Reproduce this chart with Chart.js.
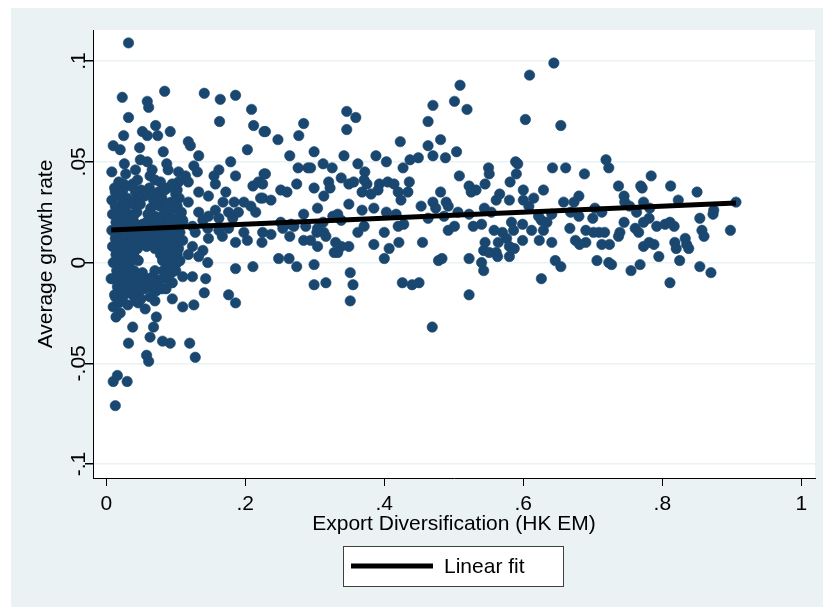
<!DOCTYPE html>
<html>
<head>
<meta charset="utf-8">
<script src="https://cdn.jsdelivr.net/npm/chart.js@4/dist/chart.umd.min.js"></script>
<style>
  body { margin: 0; background: #fff; }
  canvas { display: block; }
</style>
</head>
<body>
<canvas id="growthChart" width="823" height="607"></canvas>
<script>
// [export diversification (HK EM), average growth rate]
const obs = [
  // sparse points, low diversification
  [.032,.109],[.023,.082],[.059,.080],[.084,.085],[.061,.077],[.032,.072],[.052,.065],[.071,.068],[.092,.065],[.025,.063],
  [.059,.063],[.074,.063],[.010,.058],[.020,.056],[.048,.057],[.082,.055],[.026,.049],[.049,.051],[.059,.050],[.087,.049],
  [.042,.046],[.066,.046],[.089,.046],[.104,.045],[.025,.039],[.038,.039],[.063,.043],[.078,.040],[.013,.035],[.104,.040],
  [.013,-.071],[.010,-.059],[.016,-.056],[.030,-.059],[.058,-.046],[.061,-.049],[.032,-.040],[.063,-.037],[.068,-.032],[.072,-.027],
  [.038,-.032],[.081,-.039],[.092,-.040],[.014,-.027],[.020,-.025],[.010,-.022],[.029,-.015],[.046,-.020],[.056,-.023],[.095,-.018],
  [.013,-.017],[.007,-.008],
  // dense cluster near zero
  [.012,.037],[.024,.036],[.036,.038],[.050,.036],[.062,.037],[.075,.035],[.088,.037],[.100,.034],
  [.008,.031],[.019,.033],[.030,.032],[.043,.031],[.055,.033],[.068,.031],[.080,.032],[.093,.030],[.105,.032],
  [.013,.028],[.026,.027],[.038,.029],[.064,.027],[.077,.028],[.090,.026],[.102,.028],
  [.009,.024],[.021,.023],[.033,.024],[.070,.023],[.083,.024],[.096,.022],[.108,.025],
  [.014,.020],[.027,.019],[.040,.020],[.052,.019],[.063,.020],[.076,.019],[.088,.021],[.100,.018],
  [.008,.016],[.020,.015],[.032,.016],[.045,.015],[.057,.016],[.069,.015],[.081,.014],[.094,.016],[.106,.015],
  [.013,.012],[.025,.011],[.037,.012],[.050,.011],[.062,.012],[.074,.011],[.087,.012],[.099,.010],
  [.009,.008],[.021,.007],[.033,.008],[.045,.007],[.058,.008],[.070,.007],[.082,.008],[.104,.007],
  [.014,.004],[.027,.003],[.039,.004],[.078,.004],[.091,.003],[.102,.004],
  [.010,.000],[.022,-.001],[.034,.000],[.046,.001],[.086,.000],[.097,-.001],
  [.015,-.004],[.028,-.005],[.040,-.004],[.052,-.005],[.070,-.004],[.082,-.004],[.094,-.005],
  [.010,-.008],[.022,-.009],[.035,-.008],[.047,-.009],[.060,-.008],[.075,-.009],[.088,-.008],
  [.016,-.012],[.028,-.013],[.041,-.012],[.054,-.013],[.066,-.012],[.080,-.013],
  [.012,-.016],[.024,-.017],[.038,-.016],[.050,-.018],[.063,-.017],
  [.018,.040],[.045,.041],[.070,.041],[.095,.039],[.008,.045],[.028,.044],
  [.018,.034],[.042,.035],[.066,.034],[.084,.036],
  [.024,.030],[.049,.029],[.073,.029],[.098,.027],
  [.016,.026],[.044,.025],[.060,.024],[.086,.029],
  [.027,.022],[.039,.023],[.076,.022],[.091,.020],[.110,.021],
  [.019,.018],[.033,.020],[.046,.018],[.058,.020],[.070,.018],[.083,.017],[.107,.019],
  [.014,.014],[.026,.014],[.039,.014],[.051,.014],[.064,.013],[.090,.013],[.103,.012],
  [.017,.010],[.030,.009],[.043,.010],[.056,.010],[.068,.010],[.080,.010],[.093,.009],
  [.015,.006],[.028,.005],[.040,.006],[.087,.006],[.097,.006],
  [.018,.001],[.030,.002],[.042,.002],[.081,.001],[.092,.001],[.106,.001],
  [.020,-.003],[.034,-.003],[.088,-.003],[.100,-.004],
  [.016,-.007],[.028,-.009],[.041,-.007],[.054,-.009],[.067,-.007],[.081,-.008],[.095,-.010],
  [.022,-.013],[.035,-.012],[.048,-.014],[.060,-.012],[.072,-.014],[.086,-.013],
  [.018,-.020],[.031,-.021],[.042,-.019],[.070,-.019],
  // .1 - .23
  [.141,.084],[.164,.081],[.186,.083],[.209,.076],[.163,.070],[.212,.068],[.227,.065],[.118,.060],[.121,.058],[.203,.056],
  [.133,.053],[.179,.050],[.126,.048],[.114,.043],[.131,.045],[.162,.046],[.155,.043],[.186,.043],[.227,.044],[.219,.040],
  [.211,.038],[.157,.039],[.118,.040],[.102,.036],[.133,.035],[.172,.035],[.147,.033],[.222,.032],[.118,.030],[.168,.030],
  [.184,.030],[.198,.030],[.208,.028],[.215,.025],[.133,.025],[.157,.026],[.176,.025],[.190,.025],[.107,.024],[.147,.023],
  [.162,.022],[.182,.022],[.139,.021],[.110,.020],[.124,.018],[.146,.017],[.162,.016],[.176,.017],[.198,.015],[.110,.011],
  [.128,.015],[.147,.012],[.167,.013],[.186,.010],[.203,.011],[.224,.010],[.102,.006],[.124,.008],[.139,.006],[.118,.004],
  [.133,.003],[.146,.000],[.102,.000],[.186,-.003],[.211,-.002],[.110,-.007],[.124,-.007],[.143,-.008],[.141,-.015],[.110,-.022],
  [.126,-.021],[.176,-.016],[.186,-.020],[.120,-.040],[.128,-.047],
  // .22 - .41
  [.346,.075],[.359,.072],[.346,.066],[.284,.069],[.229,.065],[.247,.061],[.277,.063],[.299,.055],[.264,.053],[.342,.053],
  [.388,.053],[.276,.047],[.290,.047],[.294,.047],[.312,.049],[.325,.047],[.362,.049],[.403,.050],[.372,.045],[.229,.044],
  [.225,.039],[.338,.042],[.274,.039],[.299,.037],[.320,.040],[.322,.037],[.349,.039],[.356,.040],[.371,.041],[.375,.039],
  [.393,.039],[.405,.040],[.414,.039],[.251,.036],[.260,.035],[.313,.033],[.368,.035],[.381,.034],[.391,.036],[.225,.032],
  [.237,.031],[.349,.029],[.304,.027],[.368,.026],[.385,.027],[.284,.024],[.326,.023],[.333,.024],[.403,.025],[.251,.020],
  [.266,.019],[.287,.018],[.312,.020],[.338,.021],[.254,.017],[.270,.018],[.304,.017],[.313,.015],[.371,.018],[.237,.014],
  [.225,.015],[.264,.013],[.303,.015],[.284,.011],[.294,.011],[.304,.008],[.316,.013],[.362,.015],[.400,.015],[.385,.009],
  [.407,.007],[.349,.008],[.330,.010],[.338,.008],[.328,.005],[.333,.005],[.248,.002],[.263,.002],[.274,-.002],[.299,-.001],
  [.400,.002],[.351,-.005],[.299,-.011],[.316,-.010],[.355,-.011],[.351,-.019],
  // .41 - .63
  [.609,.093],[.509,.088],[.470,.078],[.501,.080],[.519,.076],[.603,.071],[.463,.070],[.423,.060],[.463,.058],[.481,.061],
  [.470,.053],[.488,.052],[.504,.055],[.437,.051],[.449,.052],[.589,.050],[.592,.049],[.427,.047],[.550,.047],[.551,.044],
  [.590,.044],[.508,.043],[.436,.040],[.545,.039],[.581,.040],[.522,.038],[.532,.036],[.525,.035],[.600,.036],[.420,.035],
  [.434,.035],[.481,.035],[.566,.034],[.580,.031],[.561,.031],[.600,.031],[.615,.032],[.424,.031],[.470,.030],[.489,.030],
  [.492,.028],[.453,.028],[.474,.027],[.544,.027],[.554,.025],[.608,.028],[.417,.024],[.463,.022],[.486,.023],[.506,.025],
  [.522,.024],[.622,.023],[.583,.020],[.599,.019],[.420,.018],[.428,.019],[.528,.018],[.540,.019],[.501,.018],[.492,.016],
  [.558,.016],[.586,.016],[.612,.016],[.421,.010],[.455,.010],[.570,.015],[.576,.012],[.599,.011],[.623,.011],[.545,.010],
  [.564,.010],[.580,.008],[.587,.007],[.543,.006],[.561,.005],[.551,.005],[.563,.003],[.580,.003],[.522,.002],[.540,.000],
  [.478,.001],[.483,.002],[.543,-.004],[.426,-.010],[.440,-.011],[.450,-.010],[.522,-.016],[.469,-.032],[.626,-.008],
  // .63 - .83
  [.644,.099],[.654,.068],[.642,.047],[.661,.047],[.688,.044],[.719,.051],[.723,.047],[.784,.043],[.737,.038],[.769,.038],
  [.771,.037],[.812,.038],[.629,.036],[.680,.033],[.745,.033],[.658,.030],[.673,.030],[.746,.030],[.773,.030],[.823,.031],
  [.641,.024],[.703,.027],[.713,.025],[.753,.028],[.782,.027],[.668,.025],[.680,.023],[.700,.022],[.763,.025],[.626,.021],
  [.634,.020],[.745,.020],[.773,.020],[.781,.022],[.792,.018],[.804,.019],[.811,.020],[.817,.018],[.667,.017],[.629,.016],
  [.690,.016],[.709,.015],[.717,.015],[.761,.017],[.766,.015],[.739,.015],[.641,.010],[.675,.011],[.690,.010],[.681,.009],
  [.701,.015],[.713,.009],[.724,.009],[.737,.013],[.773,.008],[.781,.010],[.788,.009],[.795,.003],[.818,.010],[.820,.007],
  [.646,.001],[.654,-.002],[.706,.001],[.723,.000],[.727,-.001],[.755,-.004],[.768,-.001],[.825,.001],[.811,-.010],
  // .83 and up
  [.850,.035],[.906,.030],[.874,.026],[.873,.024],[.854,.022],[.857,.016],[.860,.013],[.898,.016],[.833,.012],[.835,.009],
  [.838,.007],[.854,-.002],[.870,-.005]
];

// linear fit end points
const fitX = [0.007, 0.906];
const fitY = [0.0162, 0.0295];

const xTicks = [0, 0.2, 0.4, 0.6, 0.8, 1];
const xTickLabels = ['0', '.2', '.4', '.6', '.8', '1'];
const yTicks = [-0.1, -0.05, 0, 0.05, 0.1];
const yTickLabels = ['-.1', '-.05', '0', '.05', '.1'];

const FONT = '"Liberation Sans", Arial, sans-serif';
const graphBg = 'rgb(234,242,243)';
const navy = 'rgb(26,71,111)';

// stata-ish frame, text and legend
const stataFrame = {
  id: 'stataFrame',
  beforeDraw(chart) {
    const ctx = chart.ctx;
    const a = chart.chartArea;
    ctx.save();
    ctx.fillStyle = '#fff';
    ctx.fillRect(0, 0, chart.width, chart.height);
    ctx.fillStyle = graphBg;
    ctx.fillRect(11, 8, chart.width - 11, chart.height - 8);
    ctx.fillStyle = '#fff';
    ctx.fillRect(a.left, a.top, a.right - a.left, a.bottom - a.top);
    ctx.restore();
  },
  afterDraw(chart) {
    const ctx = chart.ctx;
    const xs = chart.scales.x;
    const ys = chart.scales.y;
    const a = chart.chartArea;
    ctx.save();
    ctx.fillStyle = '#000';
    ctx.font = '21px ' + FONT;

    // x tick labels
    ctx.textAlign = 'center';
    ctx.textBaseline = 'alphabetic';
    xTicks.forEach(function(v, i) {
      ctx.fillText(xTickLabels[i], xs.getPixelForValue(v), 510);
    });

    // y tick labels, rotated
    yTicks.forEach(function(v, i) {
      ctx.save();
      ctx.translate(85, ys.getPixelForValue(v));
      ctx.rotate(-Math.PI / 2);
      ctx.fillText(yTickLabels[i], 0, 0);
      ctx.restore();
    });

    // axis titles
    ctx.fillText('Export Diversification (HK EM)', (a.left + a.right) / 2, 530);
    ctx.save();
    ctx.translate(52, (a.top + a.bottom) / 2);
    ctx.rotate(-Math.PI / 2);
    ctx.fillText('Average growth rate', 0, 0);
    ctx.restore();

    // legend box
    ctx.fillStyle = '#fff';
    ctx.fillRect(343.5, 546.5, 220, 40);
    ctx.strokeStyle = '#404040';
    ctx.lineWidth = 1;
    ctx.strokeRect(343.5, 546.5, 220, 40);
    ctx.strokeStyle = '#000';
    ctx.lineWidth = 5;
    ctx.beginPath();
    ctx.moveTo(351, 566);
    ctx.lineTo(433, 566);
    ctx.stroke();
    ctx.fillStyle = '#000';
    ctx.textAlign = 'left';
    ctx.fillText(chart.data.datasets[0].label, 444, 573);
    ctx.restore();
  }
};

const ctx = document.getElementById('growthChart').getContext('2d');
const growthChart = new Chart(ctx, {
  type: 'scatter',
  data: {
    datasets: [{
      type: 'line',
      label: 'Linear fit',
      data: fitX.map(function(x, i) { return { x: x, y: fitY[i] }; }),
      borderColor: '#000',
      borderWidth: 5,
      pointRadius: 0,
      fill: false,
      order: 0
    }, {
      label: 'Average growth rate',
      data: obs.map(function(p) { return { x: p[0], y: p[1] }; }),
      backgroundColor: navy,
      borderColor: navy,
      borderWidth: 0.6,
      pointRadius: 5.2,
      order: 1
    }]
  },
  options: {
    responsive: false,
    animation: false,
    layout: { padding: { top: 30, right: 8, bottom: 0, left: 0 } },
    plugins: {
      legend: { display: false },
      tooltip: { enabled: false }
    },
    scales: {
      x: {
        type: 'linear',
        min: -0.0191,
        max: 1.0197,
        afterBuildTicks: function(s) { s.ticks = xTicks.map(function(v) { return { value: v }; }); },
        afterFit: function(s) { s.height = 129; },
        ticks: { display: false },
        grid: { drawOnChartArea: false, tickLength: 8, tickColor: '#000', color: '#000' },
        border: { color: '#000', width: 1 }
      },
      y: {
        type: 'linear',
        min: -0.1069,
        max: 0.1154,
        afterBuildTicks: function(s) { s.ticks = yTicks.map(function(v) { return { value: v }; }); },
        afterFit: function(s) { s.width = 93; },
        ticks: { display: false },
        grid: { color: graphBg, lineWidth: 1.5, tickLength: 8, tickColor: '#000' },
        border: { color: '#000', width: 1 }
      }
    }
  },
  plugins: [stataFrame]
});
</script>
</body>
</html>
